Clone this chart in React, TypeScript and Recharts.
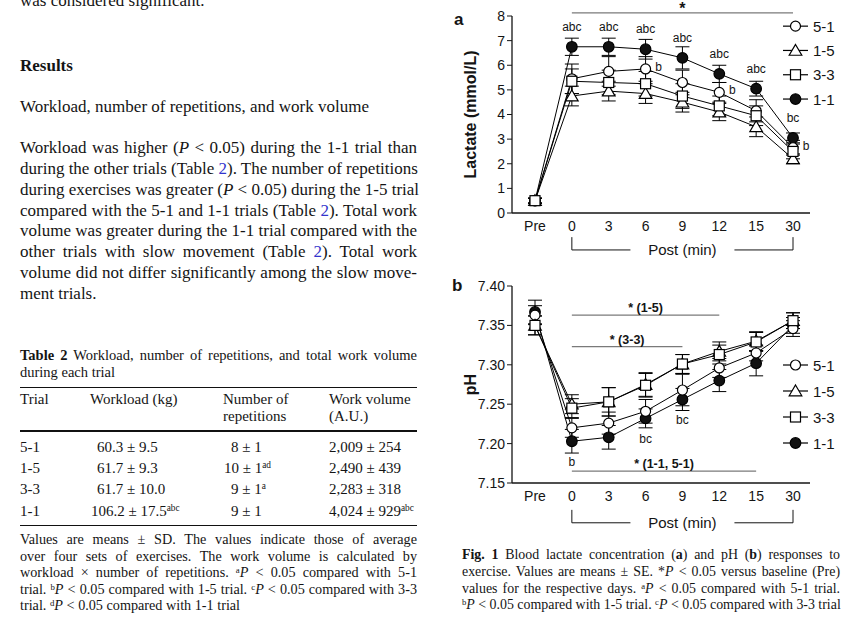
import React from 'react'
import { LineChart, Line, XAxis, YAxis, ErrorBar, LabelList, ReferenceLine, Legend } from 'recharts'

const INK = '#141414'
const sans = '"Liberation Sans", Arial, sans-serif'
const serif = '"Liberation Serif", "Times New Roman", serif'

// time points
const times = ['Pre', '0', '3', '6', '9', '12', '15', '30']

// blood lactate (mmol/L), means and SE
const lac51 = [0.5, 5.45, 5.75, 5.85, 5.3, 4.9, 4.15, 2.65]
const lac15 = [0.5, 4.75, 4.95, 4.85, 4.5, 4.1, 3.5, 2.2]
const lac33 = [0.5, 5.35, 5.3, 5.25, 4.75, 4.35, 3.95, 2.5]
const lac11 = [0.5, 6.75, 6.75, 6.65, 6.3, 5.65, 5.05, 3.05]
const lacSe51 = [0.1, 0.6, 0.6, 0.5, 0.5, 0.4, 0.45, 0.3]
const lacSe15 = [0.1, 0.4, 0.4, 0.4, 0.4, 0.35, 0.4, 0.2]
const lacSe33 = [0.1, 0.5, 0.5, 0.5, 0.5, 0.4, 0.4, 0.3]
const lacSe11 = [0.1, 0.35, 0.35, 0.4, 0.45, 0.35, 0.3, 0.2]
const lacNote51 = ['', '', '', 'b', '', 'b', '', 'b']
const lacNote11 = ['', 'abc', 'abc', 'abc', 'abc', 'abc', 'abc', 'bc']
const lacTicks = [0, 1, 2, 3, 4, 5, 6, 7, 8]

// blood pH, means and SE
const ph51 = [7.363, 7.22, 7.226, 7.241, 7.268, 7.296, 7.315, 7.346]
const ph15 = [7.35, 7.25, 7.253, 7.275, 7.301, 7.317, 7.33, 7.356]
const ph33 = [7.35, 7.245, 7.253, 7.274, 7.301, 7.313, 7.329, 7.356]
const ph11 = [7.367, 7.203, 7.208, 7.232, 7.256, 7.28, 7.302, 7.35]
const phSe51 = [0.012, 0.012, 0.014, 0.015, 0.02, 0.012, 0.01, 0.01]
const phSe15 = [0.012, 0.012, 0.018, 0.015, 0.012, 0.012, 0.012, 0.01]
const phSe33 = [0.012, 0.012, 0.018, 0.015, 0.012, 0.012, 0.012, 0.01]
const phSe11 = [0.015, 0.015, 0.015, 0.012, 0.014, 0.014, 0.016, 0.01]
const phNote11 = ['', 'b', '', 'bc', 'bc', '', '', '']
const phTicks = [7.15, 7.2, 7.25, 7.3, 7.35, 7.4]

// significance bars (* vs Pre)
const lacSig = [{ text: '*', from: '0', to: '30', at: 8.13 }]
const phSig = [
  { text: '* (1-5)', from: '0', to: '12', at: 7.363 },
  { text: '* (3-3)', from: '0', to: '9', at: 7.323 },
  { text: '* (1-1, 5-1)', from: '0', to: '15', at: 7.165 },
]

const series = [
  { key: '11', name: '1-1', shape: 'disc' },
  { key: '51', name: '5-1', shape: 'circle' },
  { key: '15', name: '1-5', shape: 'triangle' },
  { key: '33', name: '3-3', shape: 'square' },
]
const legendOrder = ['5-1', '1-5', '3-3', '1-1']

const lactateData = times.map((t, i) => ({
  t,
  v51: lac51[i], v15: lac15[i], v33: lac33[i], v11: lac11[i],
  e51: lacSe51[i], e15: lacSe15[i], e33: lacSe33[i], e11: lacSe11[i],
  n51: lacNote51[i], n11: lacNote11[i],
}))

const phData = times.map((t, i) => ({
  t,
  v51: ph51[i], v15: ph15[i], v33: ph33[i], v11: ph11[i],
  e51: phSe51[i], e15: phSe15[i], e33: phSe33[i], e11: phSe11[i],
  n11: phNote11[i],
}))

function Marker({ shape, cx, cy }: { shape: string; cx: number; cy: number }) {
  const s = { stroke: '#000', strokeWidth: 1.2 }
  if (shape === 'circle') return <circle cx={cx} cy={cy} r={5} fill="#fff" {...s} />
  if (shape === 'triangle')
    return <path d={`M${cx},${cy - 6}L${cx + 6.3},${cy + 4.8}L${cx - 6.3},${cy + 4.8}Z`} fill="#fff" {...s} />
  if (shape === 'square') return <rect x={cx - 5} y={cy - 5} width={10} height={10} fill="#fff" {...s} />
  return <circle cx={cx} cy={cy} r={5.3} fill="#111" {...s} />
}

const note = (dx: number, dy: number) => (p: any) =>
  p.value ? (
    <text x={p.x + dx} y={p.y + dy} textAnchor="middle" dominantBaseline="central" fontSize={12} fontFamily={sans} fill={INK}>
      {p.value}
    </text>
  ) : null

function LegendBox({ gap }: { gap: number }) {
  return (
    <svg width={70} height={gap * 4} style={{ display: 'block', overflow: 'visible' }}>
      {legendOrder.map((name, i) => {
        const m = series.find((s) => s.name === name)!
        const cy = gap / 2 + i * gap
        return (
          <g key={name}>
            <line x1={0} x2={25} y1={cy} y2={cy} stroke="#000" strokeWidth={1.2} />
            <Marker shape={m.shape} cx={12.5} cy={cy} />
            <text x={30} y={cy} dominantBaseline="central" fontSize={15} fontFamily={sans} fill={INK}>
              {name}
            </text>
          </g>
        )
      })}
    </svg>
  )
}

const yLabel = (text: string) => (props: any) => {
  const vb = props.viewBox
  const cx = vb.x + 8
  const cy = vb.y + vb.height / 2
  return (
    <text x={cx} y={cy} transform={`rotate(-90 ${cx} ${cy})`} textAnchor="middle" dominantBaseline="central"
      fontWeight="bold" fontSize={16} fontFamily={sans} fill={INK}>
      {text}
    </text>
  )
}

const postLabel = (props: any) => {
  const vb = props.viewBox
  const cx = vb.x + vb.width / 2
  return (
    <g>
      <rect x={cx - 52} y={vb.y - 9} width={104} height={18} fill="#fff" />
      <text x={cx} y={vb.y} textAnchor="middle" dominantBaseline="central" fontSize={15} fontFamily={sans} fill={INK}>
        Post (min)
      </text>
    </g>
  )
}

function Panel({ data, domain, ticks, fmt, label, sig, bracket, notes, legendTop, legendGap }: any) {
  return (
    <LineChart width={400} height={265} data={data} margin={{ top: 16, right: 40, bottom: 22, left: 12 }}>
      <XAxis dataKey="t" padding={{ left: 23, right: 17 }} tickLine={false} interval={0} height={30}
        axisLine={{ stroke: INK, strokeWidth: 1.3 }} tick={{ fontSize: 14, fill: INK, fontFamily: sans }} />
      <YAxis domain={domain} ticks={ticks} width={50} interval={0} tickSize={5} tickFormatter={fmt}
        axisLine={{ stroke: INK, strokeWidth: 1.3 }} tickLine={{ stroke: INK }}
        tick={{ fontSize: 14, fill: INK, fontFamily: sans }} label={yLabel(label)} />
      {sig.map((s: any) => (
        <ReferenceLine key={s.text} segment={[{ x: s.from, y: s.at }, { x: s.to, y: s.at }]} stroke="#7a7a7a"
          strokeWidth={1.3} ifOverflow="visible"
          label={{ value: s.text, position: 'top', offset: s.text === '*' ? -1 : 3, fontSize: s.text === '*' ? 16 : 12.5, fontWeight: 'bold', fill: INK, fontFamily: sans }} />
      ))}
      <ReferenceLine segment={[{ x: '0', y: bracket[0] }, { x: '0', y: bracket[1] }]} stroke={INK} ifOverflow="visible" />
      <ReferenceLine segment={[{ x: '30', y: bracket[0] }, { x: '30', y: bracket[1] }]} stroke={INK} ifOverflow="visible" />
      <ReferenceLine segment={[{ x: '0', y: bracket[1] }, { x: '30', y: bracket[1] }]} stroke={INK} ifOverflow="visible" label={postLabel} />
      {series.map((m) => (
        <Line key={m.key} dataKey={'v' + m.key} stroke="#000" strokeWidth={1} isAnimationActive={false} activeDot={false}
          dot={(p: any) => <Marker key={`${m.key}-${p.index}`} shape={m.shape} cx={p.cx} cy={p.cy} />}>
          <ErrorBar dataKey={'e' + m.key} width={7} stroke="#000" strokeWidth={1} direction="y" isAnimationActive={false} />
          {notes[m.key] && <LabelList dataKey={'n' + m.key} content={note(notes[m.key][0], notes[m.key][1])} />}
        </Line>
      ))}
      <Legend layout="vertical" align="center" verticalAlign="middle"
        wrapperStyle={{ left: 333, top: legendTop, width: 70, height: legendGap * 4 }}
        content={() => <LegendBox gap={legendGap} />} />
    </LineChart>
  )
}

const Sup = ({ children }: any) => (
  <span style={{ fontSize: '0.62em', verticalAlign: '0.5em', lineHeight: 0 }}>{children}</span>
)
const Ref = () => <span style={{ color: '#3333cc' }}>2</span>

function TL({ x, y, w, size, children, justify = true, bold = false }: any) {
  const lh = Math.round(size * 1.3)
  return (
    <div style={{
      position: 'absolute', left: x, top: y - lh / 2, width: w, height: lh, lineHeight: `${lh}px`, fontSize: size,
      fontFamily: serif, fontWeight: bold ? 700 : 400, whiteSpace: 'nowrap',
      textAlign: justify ? 'justify' : 'left', textAlignLast: justify ? 'justify' : 'left',
    }}>
      {children}
    </div>
  )
}

const bodyLines = [
  <>Workload was higher (<i>P</i> &lt; 0.05) during the 1-1 trial than</>,
  <>during the other trials (Table <Ref />). The number of repetitions</>,
  <>during exercises was greater (<i>P</i> &lt; 0.05) during the 1-5 trial</>,
  <>compared with the 5-1 and 1-1 trials (Table <Ref />). Total work</>,
  <>volume was greater during the 1-1 trial compared with the</>,
  <>other trials with slow movement (Table <Ref />). Total work</>,
  <>volume did not differ significantly among the slow move-</>,
  <>ment trials.</>,
]

const trialNames = ['5-1', '1-5', '3-3', '1-1']
const workloads = [<>60.3 ± 9.5</>, <>61.7 ± 9.3</>, <>61.7 ± 10.0</>, <>106.2 ± 17.5<Sup>abc</Sup></>]
const repetitions = [<>8 ± 1</>, <>10 ± 1<Sup>ad</Sup></>, <>9 ± 1<Sup>a</Sup></>, <>9 ± 1</>]
const volumes = [<>2,009 ± 254</>, <>2,490 ± 439</>, <>2,283 ± 318</>, <>4,024 ± 929<Sup>abc</Sup></>]
const workloadX = [97, 97, 97, 91]
const repX = [231, 224, 231, 231]

const tableNotes = [
  <>Values are means ± SD. The values indicate those of average</>,
  <>over four sets of exercises. The work volume is calculated by</>,
  <>workload × number of repetitions. <Sup>a</Sup><i>P</i> &lt; 0.05 compared with 5-1</>,
  <>trial. <Sup>b</Sup><i>P</i> &lt; 0.05 compared with 1-5 trial. <Sup>c</Sup><i>P</i> &lt; 0.05 compared with 3-3</>,
  <>trial. <Sup>d</Sup><i>P</i> &lt; 0.05 compared with 1-1 trial</>,
]

const captionLines = [
  <><b>Fig. 1</b> Blood lactate concentration (<b>a</b>) and pH (<b>b</b>) responses to</>,
  <>exercise. Values are means ± SE. *<i>P</i> &lt; 0.05 versus baseline (Pre)</>,
  <>values for the respective days. <Sup>a</Sup><i>P</i> &lt; 0.05 compared with 5-1 trial.</>,
  <><Sup>b</Sup><i>P</i> &lt; 0.05 compared with 1-5 trial. <Sup>c</Sup><i>P</i> &lt; 0.05 compared with 3-3 trial</>,
]

const Rule = ({ y, h = 1 }: any) => (
  <div style={{ position: 'absolute', left: 20, top: y, width: 397, height: h, background: '#111' }} />
)

export default function App() {
  return (
    <div style={{ position: 'absolute', left: 0, top: 0, width: 857, height: 627, background: '#fff', overflow: 'hidden', color: INK }}>
      <TL x={20} y={1} w={397} size={17} justify={false}>was considered significant.</TL>
      <TL x={20} y={66} w={397} size={17} justify={false} bold>Results</TL>
      <TL x={20} y={107} w={397} size={17} justify={false}>Workload, number of repetitions, and work volume</TL>
      {bodyLines.map((l, i) => (
        <TL key={i} x={20} y={148 + i * 20.85} w={397} size={17} justify={i < bodyLines.length - 1}>{l}</TL>
      ))}

      <TL x={20} y={355} w={397} size={14.5}><b>Table 2</b> Workload, number of repetitions, and total work volume</TL>
      <TL x={20} y={372} w={397} size={14.5} justify={false}>during each trial</TL>
      <Rule y={387} />
      <TL x={20} y={399} w={60} size={15} justify={false}>Trial</TL>
      <TL x={90} y={399} w={120} size={15} justify={false}>Workload (kg)</TL>
      <TL x={223} y={399} w={100} size={15} justify={false}>Number of</TL>
      <TL x={223} y={416} w={100} size={15} justify={false}>repetitions</TL>
      <TL x={329} y={399} w={100} size={15} justify={false}>Work volume</TL>
      <TL x={329} y={416} w={100} size={15} justify={false}>(A.U.)</TL>
      <Rule y={430} h={2} />
      {trialNames.map((t, i) => {
        const y = 447 + i * 21.2
        return (
          <React.Fragment key={t}>
            <TL x={20} y={y} w={60} size={15} justify={false}>{t}</TL>
            <TL x={workloadX[i]} y={y} w={130} size={15} justify={false}>{workloads[i]}</TL>
            <TL x={repX[i]} y={y} w={100} size={15} justify={false}>{repetitions[i]}</TL>
            <TL x={329} y={y} w={100} size={15} justify={false}>{volumes[i]}</TL>
          </React.Fragment>
        )
      })}
      <Rule y={525} />
      {tableNotes.map((l, i) => (
        <TL key={i} x={20} y={539 + i * 16.6} w={397} size={14.2} justify={i < tableNotes.length - 1}>{l}</TL>
      ))}

      <div style={{ position: 'absolute', left: 450, top: 0 }}>
        <Panel data={lactateData} domain={[0, 8]} ticks={lacTicks} fmt={(v: number) => String(v)}
          label="Lactate (mmol/L)" sig={lacSig} bracket={[-0.98, -1.5]}
          notes={{ '11': [0, -20], '51': [13, -2] }} legendTop={14} legendGap={24.3} />
      </div>
      <div style={{ position: 'absolute', left: 450, top: 270 }}>
        <Panel data={phData} domain={[7.15, 7.4]} ticks={phTicks} fmt={(v: number) => v.toFixed(2)}
          label="pH" sig={phSig} bracket={[7.1159, 7.0995]}
          notes={{ '11': [0, 21] }} legendTop={82} legendGap={26} />
      </div>
      <div style={{ position: 'absolute', left: 454, top: 10, fontFamily: sans, fontWeight: 700, fontSize: 17 }}>a</div>
      <div style={{ position: 'absolute', left: 452, top: 276, fontFamily: sans, fontWeight: 700, fontSize: 17 }}>b</div>

      {captionLines.map((l, i) => (
        <TL key={i} x={462} y={555 + i * 16.8} w={378} size={13.9}>{l}</TL>
      ))}
    </div>
  )
}
